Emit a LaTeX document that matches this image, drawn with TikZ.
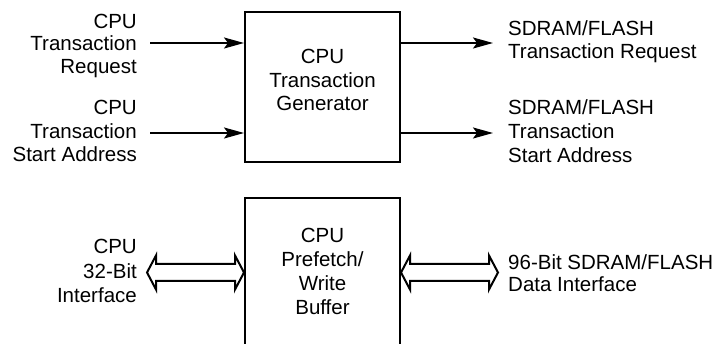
\documentclass[tikz,border=0pt]{standalone}
\usepackage{fontspec}
\setmainfont{Liberation Sans}
\usetikzlibrary{arrows.meta,calc}
% font size 20.5pt with a per-node line spacing
\newcommand\lblfont[1]{\fontsize{20.5}{#1}\selectfont}
% hollow two-headed bus arrow between two tip points
\newcommand\busarrow[2]{%
  \draw[bus] (#1) -- ($(#1)+(9,-17)$) -- ($(#1)+(9,-8.5)$) -- ($(#2)+(-9,-8.5)$)
    -- ($(#2)+(-9,-17)$) -- (#2) -- ($(#2)+(-9,17)$) -- ($(#2)+(-9,8.5)$)
    -- ($(#1)+(9,8.5)$) -- ($(#1)+(9,17)$) -- cycle;}
\begin{document}
\begin{tikzpicture}[x=1pt,y=-1pt,
  block/.style={draw, line width=2pt, minimum width=155pt, inner sep=0pt},
  btext/.style={align=center, inner sep=0pt},
  lbl/.style={inner ysep=0pt},
  sig/.style={line width=2pt, -{Stealth[length=20pt,width=11pt,inset=4pt]}},
  bus/.style={line width=2pt, line join=miter}]
\useasboundingbox (0,0) rectangle (723,344);
\fill[white] (0,0) rectangle (723,344);
\clip (0,0) rectangle (723,344);

% transaction generator
\node[block, minimum height=150pt] (gen) at (322.5,87) {};
\node[btext, font=\lblfont{23.3}] (gent) at (322.5,80) {CPU\\Transaction\\Generator};

% prefetch / write buffer (runs off the lower edge)
\node[block, minimum height=200pt, anchor=north] (pwb) at (322.5,197) {};
\node[btext, font=\lblfont{24}] (pwbt) at (322.5,271) {CPU\\Prefetch/\\Write\\Buffer};

% signal labels
\node[lbl, anchor=east, align=right, inner xsep=13pt, font=\lblfont{22.6}] (inA) at (150,45.8) {CPU\\Transaction\\Request};
\node[lbl, anchor=east, align=right, inner xsep=13pt, font=\lblfont{23.5}] (inB) at (150,131.4) {CPU\\Transaction\\Start Address};
\node[lbl, anchor=west, align=left, inner xsep=15pt, font=\lblfont{22.6}] (outA) at (493,42) {SDRAM/FLASH\\Transaction Request};
\node[lbl, anchor=west, align=left, inner xsep=15pt, font=\lblfont{24}] (outB) at (493,131.4) {SDRAM/FLASH\\Transaction\\Start Address};
\node[lbl, anchor=east, align=right, inner xsep=10pt, font=\lblfont{24.4}] (cpuif) at (147,271) {CPU\\32-Bit\\Interface};
\node[lbl, anchor=west, align=left, inner xsep=10pt, font=\lblfont{21.5}] (memif) at (498,273.3) {96-Bit SDRAM/FLASH\\Data Interface};

% signal levels
\coordinate (yA) at (0,43);
\coordinate (yB) at (0,133);
\coordinate (yC) at (0,272.5);

\draw[sig] (inA.east |- yA) -- (gen.west |- yA);
\draw[sig] (inB.east |- yB) -- (gen.west |- yB);
\draw[sig] (gen.east |- yA) -- (outA.west |- yA);
\draw[sig] (gen.east |- yB) -- (outB.west |- yB);

% data buses
\coordinate (cpuL) at (cpuif.east |- yC);
\coordinate (cpuR) at (pwb.west |- yC);
\coordinate (memL) at (pwb.east |- yC);
\coordinate (memR) at (memif.west |- yC);
\busarrow{cpuL}{cpuR}
\busarrow{memL}{memR}
\end{tikzpicture}
\end{document}
